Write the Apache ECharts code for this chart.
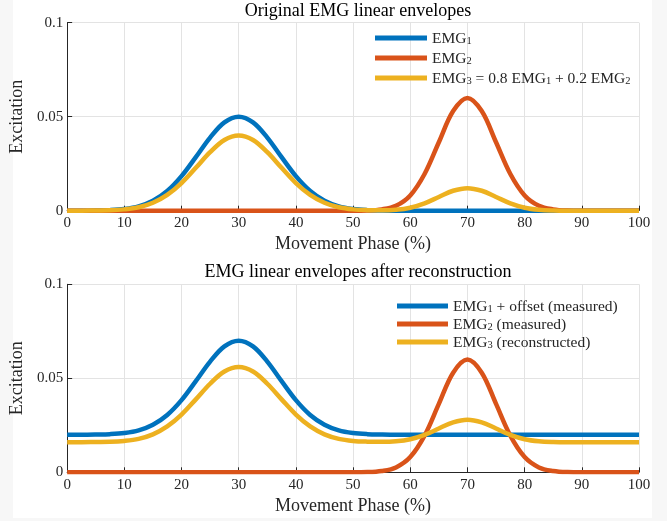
<!DOCTYPE html>
<html>
<head>
<meta charset="utf-8">
<script src="https://cdn.jsdelivr.net/npm/echarts@6/dist/echarts.min.js"></script>
<style>
  html, body { margin: 0; padding: 0; background: #f7f7f7; }
  #chart { position: absolute; left: 0; top: 0; width: 667px; height: 521px; }
  .paper { position: absolute; left: 13px; top: 0; width: 639px; height: 518px; background: #fff; }
</style>
</head>
<body>
<div class="paper"></div>
<div id="chart"></div>
<script>
// movement phase (%) sampled every 2.5
const phase = [0, 2.5, 5, 7.5, 10, 12.5, 15, 17.5, 20, 22.5, 25, 27.5, 30, 32.5, 35, 37.5, 40,
  42.5, 45, 47.5, 50, 52.5, 55, 57.5, 60, 62.5, 65, 67.5, 70, 72.5, 75, 77.5, 80,
  82.5, 85, 87.5, 90, 92.5, 95, 97.5, 100]

// top panel: original envelopes
const emg1 = [0, 0, 0.0001, 0.0003, 0.0009, 0.0023, 0.0053, 0.0105, 0.0184, 0.0285, 0.0389, 0.0470, 0.0500,
  0.0470, 0.0389, 0.0285, 0.0184, 0.0105, 0.0053, 0.0023, 0.0009, 0.0003, 0.0001,
  0, 0, 0, 0, 0, 0, 0, 0, 0, 0, 0, 0, 0, 0, 0, 0, 0, 0]
const emg2 = [0, 0, 0, 0, 0, 0, 0, 0, 0, 0, 0, 0, 0, 0, 0, 0, 0, 0, 0, 0,
  0, 0.0001, 0.0007, 0.0026, 0.0081, 0.0195, 0.0364, 0.0530, 0.0600, 0.0530, 0.0364, 0.0195, 0.0081,
  0.0026, 0.0007, 0.0001, 0, 0, 0, 0, 0]
const emg3 = [0, 0, 0.0001, 0.0002, 0.0007, 0.0018, 0.0042, 0.0084, 0.0147, 0.0228, 0.0311, 0.0376, 0.0400,
  0.0376, 0.0311, 0.0228, 0.0147, 0.0084, 0.0042, 0.0018, 0.0007, 0.0003, 0.0002,
  0.0005, 0.0016, 0.0039, 0.0073, 0.0106, 0.0120, 0.0106, 0.0073, 0.0039, 0.0016,
  0.0005, 0.0001, 0, 0, 0, 0, 0, 0]

// bottom panel: after reconstruction
const emg1Offset = [0.0200, 0.0200, 0.0201, 0.0203, 0.0209, 0.0223, 0.0253, 0.0305, 0.0384, 0.0485, 0.0589, 0.0670, 0.0700,
  0.0670, 0.0589, 0.0485, 0.0384, 0.0305, 0.0253, 0.0223, 0.0209, 0.0203, 0.0201,
  0.02, 0.02, 0.02, 0.02, 0.02, 0.02, 0.02, 0.02, 0.02, 0.02, 0.02, 0.02, 0.02, 0.02, 0.02, 0.02, 0.02, 0.02]
const emg3Recon = [0.0160, 0.0160, 0.0161, 0.0162, 0.0167, 0.0178, 0.0202, 0.0244, 0.0307, 0.0388, 0.0471, 0.0536, 0.0560,
  0.0536, 0.0471, 0.0388, 0.0307, 0.0244, 0.0202, 0.0178, 0.0167, 0.0163, 0.0162,
  0.0165, 0.0176, 0.0199, 0.0233, 0.0266, 0.0280, 0.0266, 0.0233, 0.0199, 0.0176,
  0.0165, 0.0161, 0.0160, 0.0160, 0.0160, 0.0160, 0.0160, 0.0160]

const colors = ['#0072BD', '#D95319', '#EDB120']
const FONT = '"Liberation Serif", "DejaVu Serif", serif'
const TXT = '#262626'

const pairs = ys => phase.map((x, i) => [x, ys[i]])

// legend labels with subscripts
const labelMap = {
    'EMG1': '{n|EMG}{s|1}',
    'EMG2': '{n|EMG}{s|2}',
    'EMG3 = 0.8 EMG1 + 0.2 EMG2': '{n|EMG}{s|3}{n| = 0.8 EMG}{s|1}{n| + 0.2 EMG}{s|2}',
    'EMG1 + offset (measured)': '{n|EMG}{s|1}{n| + offset (measured)}',
    'EMG2 (measured)': '{n|EMG}{s|2}{n| (measured)}',
    'EMG3 (reconstructed)': '{n|EMG}{s|3}{n| (reconstructed)}',
}
const rich = {
    n: { fontFamily: FONT, fontSize: 15.5, color: TXT, lineHeight: 17, verticalAlign: 'bottom' },
    s: { fontFamily: FONT, fontSize: 10.5, color: TXT, lineHeight: 10, verticalAlign: 'bottom' },
}

const grids = [
    { left: 67, width: 572, top: 22.7, height: 188 },
    { left: 67, width: 572, top: 284.3, height: 188 },
]

const makeX = idx => ({
    type: 'value', gridIndex: idx, min: 0, max: 100, interval: 10,
    name: 'Movement Phase (%)', nameLocation: 'middle', nameGap: 25,
    nameTextStyle: { fontFamily: FONT, fontSize: 18, color: TXT },
    axisLine: { show: true, lineStyle: { color: TXT, width: 1 } },
    axisTick: { show: true, inside: true, length: 5, lineStyle: { color: TXT } },
    axisLabel: { fontFamily: FONT, fontSize: 15, color: TXT, margin: 5 },
    splitLine: { show: true, lineStyle: { color: '#e3e3e3', width: 1 } },
})
const makeY = idx => ({
    type: 'value', gridIndex: idx, min: 0, max: 0.1, interval: 0.05,
    name: 'Excitation', nameLocation: 'middle', nameGap: 33,
    nameTextStyle: { fontFamily: FONT, fontSize: 18, color: TXT },
    axisLine: { show: true, lineStyle: { color: TXT, width: 1 } },
    axisTick: { show: true, inside: true, length: 5, lineStyle: { color: TXT } },
    axisLabel: { fontFamily: FONT, fontSize: 15, color: TXT, margin: 4,
        formatter: v => String(v) },
    splitLine: { show: true, lineStyle: { color: '#e3e3e3', width: 1 } },
})

const line = (name, ys, color, idx) => ({
    name, type: 'line', xAxisIndex: idx, yAxisIndex: idx,
    data: pairs(ys), showSymbol: false, smooth: 0.35,
    lineStyle: { color, width: 4.5 }, itemStyle: { color },
    emphasis: { disabled: true }, animation: false,
})

const legendBase = {
    orient: 'vertical', icon: 'rect', itemHeight: 5, align: 'left', padding: 0,
    formatter: name => labelMap[name],
    textStyle: { rich, padding: [0, 0, 0, 0] },
    selectedMode: false,
}

const chart = echarts.init(document.getElementById('chart'), null, { renderer: 'canvas' })
chart.setOption({
    backgroundColor: 'transparent',
    animation: false,
    title: [
        { text: 'Original EMG linear envelopes', left: 353, top: -3, textAlign: 'center',
          textStyle: { fontFamily: FONT, fontSize: 18, fontWeight: 'normal', color: '#000' } },
        { text: 'EMG linear envelopes after reconstruction', left: 353, top: 258, textAlign: 'center',
          textStyle: { fontFamily: FONT, fontSize: 18, fontWeight: 'normal', color: '#000' } },
    ],
    legend: [
        Object.assign({}, legendBase, {
            left: 375, top: 30.5, itemWidth: 52, itemGap: 4,
            data: ['EMG1', 'EMG2', 'EMG3 = 0.8 EMG1 + 0.2 EMG2'],
        }),
        Object.assign({}, legendBase, {
            left: 397, top: 298.5, itemWidth: 51, itemGap: 2,
            data: ['EMG1 + offset (measured)', 'EMG2 (measured)', 'EMG3 (reconstructed)'],
        }),
    ],
    grid: grids,
    xAxis: [makeX(0), makeX(1)],
    yAxis: [makeY(0), makeY(1)],
    series: [
        line('EMG1', emg1, colors[0], 0),
        line('EMG2', emg2, colors[1], 0),
        line('EMG3 = 0.8 EMG1 + 0.2 EMG2', emg3, colors[2], 0),
        line('EMG1 + offset (measured)', emg1Offset, colors[0], 1),
        line('EMG2 (measured)', emg2, colors[1], 1),
        line('EMG3 (reconstructed)', emg3Recon, colors[2], 1),
    ],
})
</script>
</body>
</html>
